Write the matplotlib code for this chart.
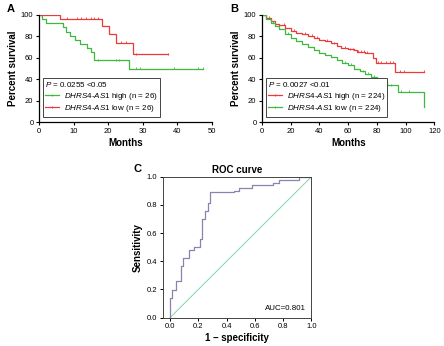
import numpy as np
import matplotlib
matplotlib.use("Agg")
import matplotlib.pyplot as plt
from matplotlib.lines import Line2D

plt.rcParams['font.family'] = ['Liberation Sans', 'DejaVu Sans']
plt.rcParams['mathtext.fontset'] = 'custom'
plt.rcParams['mathtext.rm'] = 'Liberation Sans'
plt.rcParams['mathtext.it'] = 'Liberation Sans:italic'
plt.rcParams['mathtext.bf'] = 'Liberation Sans:bold'

RED = "#ec3a3a"
GREEN = "#3dba3d"

# --- Panel A: Kaplan-Meier, n = 26 per group ---
a_high_t = [0, 0.8, 2, 7, 7.8, 9, 10.4, 12, 14, 15, 16, 26, 47.3]
a_high_s = [100, 96.2, 92.3, 88.5, 84.6, 80.8, 76.9, 73.1, 69.2, 65.4, 57.7, 50, 50]
a_high_cens = [17.2, 22.3, 23.2, 28, 29.2, 39.1, 46, 47.3]

a_low_t = [0, 6.1, 18.1, 20.2, 22.3, 27.3, 37.2]
a_low_s = [100, 96.2, 90.2, 82.0, 73.8, 63.3, 63.3]
a_low_cens = [8, 10.9, 12.1, 13.6, 15, 16, 17.2, 23.6, 25.1, 28, 37.2]

# --- Panel B: Kaplan-Meier, n = 224 per group ---
b_high_t = [0, 3, 6, 9, 12, 16, 20, 24, 28, 32, 36, 40, 44, 48, 52, 55, 60, 64,
            66, 72, 77, 79, 92.5, 113]
b_high_s = [100, 97.5, 94.5, 92, 90.5, 88, 85.5, 83.5, 82, 80.5, 78.5, 77, 75.5,
            73.5, 71, 69, 68, 67.5, 65.5, 64.5, 60, 55, 47, 47]
b_high_cens = [1, 5, 15, 22, 30, 35, 38, 45, 50, 58, 61, 63, 67, 69, 71, 73,
               81, 83, 86, 89, 91, 96, 99, 113]

b_low_t = [0, 3, 6, 9, 12, 16, 20, 24, 28, 32, 36, 40, 44, 48, 52, 56, 60, 64,
           68, 72, 76, 80, 84, 87, 94.5, 113]
b_low_s = [100, 96.5, 93, 89.5, 86.5, 82.5, 79, 76, 73, 70.5, 67.5, 65, 62.5,
           61, 58.5, 55.5, 53.5, 50, 47.5, 45, 42.5, 40, 38.5, 34.5, 28.5, 14]
b_low_cens = [2, 8, 18, 28, 40, 52, 58, 62, 70, 74, 78, 82, 90, 97, 102]

# --- Panel C: ROC curve ---
roc_fpr = [0, 0, 0.017, 0.04, 0.078, 0.095, 0.137, 0.173, 0.21, 0.225, 0.25,
           0.268, 0.284, 0.45, 0.49, 0.58, 0.73, 0.77, 0.91, 1.0]
roc_tpr = [0, 0.14, 0.197, 0.257, 0.368, 0.42, 0.48, 0.50, 0.56, 0.70, 0.755,
           0.81, 0.89, 0.90, 0.92, 0.94, 0.957, 0.974, 1.0, 1.0]
AUC = 0.801


def level_at(times, surv, t):
    i = np.searchsorted(times, t, side='right') - 1
    return np.asarray(surv)[np.clip(i, 0, len(surv) - 1)]


def km(ax, times, surv, cens, color):
    ax.step(times, surv, where='post', color=color, lw=0.9)
    ax.plot(cens, level_at(times, surv, cens) + 0.8, ls='none', marker='|',
            ms=1.6, mew=0.6, color=color)


def style_km(ax, xmax, xstep):
    ax.set_xlim(0, xmax)
    ax.set_ylim(0, 100)
    ax.set_xticks(np.arange(0, xmax + 1, xstep))
    ax.set_yticks(np.arange(0, 101, 20))
    for s in ['top', 'right']:
        ax.spines[s].set_visible(False)
    for s in ['left', 'bottom']:
        ax.spines[s].set_linewidth(0.9)
    ax.tick_params(labelsize=5.5, length=2.5, width=0.8, pad=1.5)
    ax.set_xlabel("Months", fontsize=7, fontweight='bold', labelpad=2)
    ax.set_ylabel("Percent survival", fontsize=7, fontweight='bold', labelpad=2)


def km_legend(ax, title, labels, colors):
    handles = [Line2D([0], [0], color=c, lw=0.9, marker='|', ms=1.6, mew=0.6)
               for c in colors]
    leg = ax.legend(handles, labels, title=title, loc='lower left',
                    bbox_to_anchor=(0.012, 0.04), fontsize=5.8,
                    title_fontsize=5.8, alignment='left', fancybox=False,
                    edgecolor='#444444', framealpha=1, handlelength=1.7,
                    handletextpad=0.6, borderpad=0.3, labelspacing=0.12,
                    borderaxespad=0.2)
    leg.get_frame().set_linewidth(0.7)
    leg._legend_box.sep = 1.5


fig = plt.figure(figsize=(4.44, 3.46), dpi=100)

# Panel A
axA = fig.add_axes([0.0878, 0.646, 0.3896, 0.3107])
km(axA, a_high_t, a_high_s, a_high_cens, GREEN)
km(axA, a_low_t, a_low_s, a_low_cens, RED)
style_km(axA, 50, 10)
km_legend(axA, "$P$ = 0.0255 <0.05",
          ["$\\mathit{DHRS4}$-$\\mathit{AS1}$ high (n = 26)",
           "$\\mathit{DHRS4}$-$\\mathit{AS1}$ low (n = 26)"],
          [GREEN, RED])

# Panel B
axB = fig.add_axes([0.590, 0.646, 0.3885, 0.3107])
km(axB, b_high_t, b_high_s, b_high_cens, RED)
km(axB, b_low_t, b_low_s, b_low_cens, GREEN)
style_km(axB, 120, 20)
km_legend(axB, "$P$ = 0.0027 <0.01",
          ["$\\mathit{DHRS4}$-$\\mathit{AS1}$ high (n = 224)",
           "$\\mathit{DHRS4}$-$\\mathit{AS1}$ low (n = 224)"],
          [RED, GREEN])

# Panel C
axC = fig.add_axes([0.367, 0.0818, 0.3345, 0.4075])
axC.plot([0, 1], [0, 1], color="#86d3a6", lw=0.7)
axC.step(roc_fpr, roc_tpr, where='post', color="#8585b0", lw=0.9)
axC.set_xlim(-0.05, 1.0)
axC.set_ylim(0, 1.0)
axC.set_xticks(np.arange(0, 1.01, 0.2))
axC.set_yticks(np.arange(0, 1.01, 0.2))
axC.xaxis.set_major_formatter(matplotlib.ticker.FormatStrFormatter('%.1f'))
axC.yaxis.set_major_formatter(matplotlib.ticker.FormatStrFormatter('%.1f'))
for s in axC.spines.values():
    s.set_linewidth(0.7)
    s.set_color('#444444')
axC.tick_params(labelsize=5.5, length=2.5, width=0.7, pad=1.5)
axC.set_title("ROC curve", fontsize=7, fontweight='bold', pad=3)
axC.set_xlabel("1 \u2013 specificity", fontsize=7, fontweight='bold', labelpad=2)
axC.set_ylabel("Sensitivity", fontsize=7, fontweight='bold', labelpad=3)
axC.text(0.96, 0.04, "AUC=%.3f" % AUC, transform=axC.transAxes,
         ha='right', va='bottom', fontsize=5.7)

# Panel letters
fig.text(0.016, 0.988, "A", fontsize=8, fontweight='bold', va='top')
fig.text(0.518, 0.988, "B", fontsize=8, fontweight='bold', va='top')
fig.text(0.300, 0.527, "C", fontsize=8, fontweight='bold', va='top')

fig.savefig("out.png", dpi=100)
